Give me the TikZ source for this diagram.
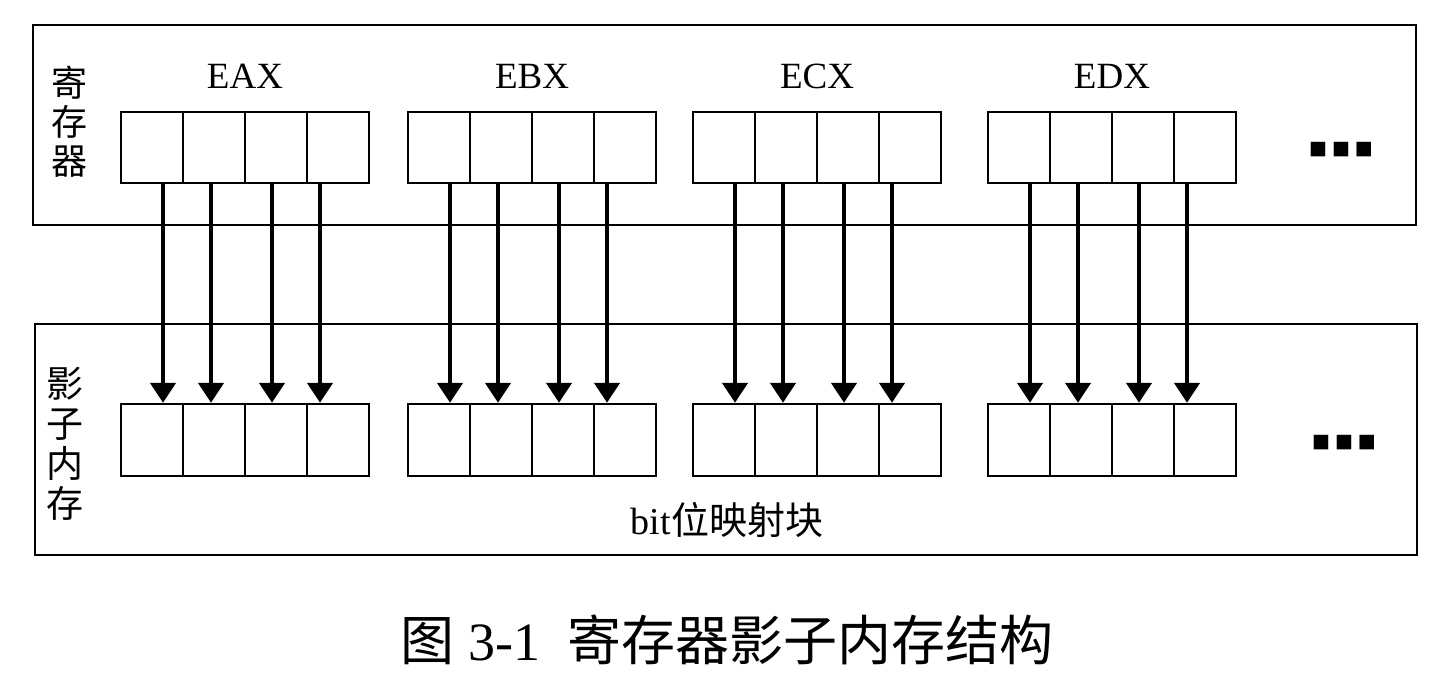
\documentclass[tikz,border=0pt]{standalone}
\usepackage{fontspec}
\setmainfont{Liberation Serif}
\newfontfamily\cjk{Noto Sans CJK SC}
\newfontfamily\symfont{DejaVu Sans}
\usetikzlibrary{arrows.meta}
\begin{document}
\begin{tikzpicture}[x=1pt,y=-1pt,>={Triangle[width=25pt,length=20pt]},
  cell/.style={draw,line width=2.4pt,minimum width=62pt,minimum height=71pt,inner sep=0pt},
  frame/.style={draw,line width=2.6pt},
  reglabel/.style={font=\fontsize{37}{40}\selectfont}]
\useasboundingbox (0,0) rectangle (1440,679);
\draw[frame] (33,25) rectangle (1416,225);
\draw[frame] (35,324) rectangle (1417,555);
\node[font=\cjk\fontsize{36}{39}\selectfont,align=center] (lblreg) at (69,122) {寄\\存\\器};
\node[font=\cjk\fontsize{37}{40}\selectfont,align=center] (lblshadow) at (65,444) {影\\子\\内\\存};
\foreach \n/\x [count=\g] in {EAX/121,EBX/408,ECX/693,EDX/988} {
  \node[reglabel] (name\g) at (\x+124,76) {\n};
  \foreach \c in {1,...,4} {
    \node[cell] (r\g\c) at (\x+62*\c-31,147.5) {};
    \node[cell,minimum height=72pt] (s\g\c) at (\x+62*\c-31,440) {};
  }
}
\foreach \g in {1,...,4}\foreach \c/\d in {1/11,2/-3,3/-4,4/-18}
  \draw[->,line width=4.4pt] ([xshift=\d pt]r\g\c.south) -- ([xshift=\d pt]s\g\c.north);
\node[font=\symfont\fontsize{19}{19}\selectfont] (moreregs) at (1341,150) {■\kern5pt■\kern5pt■};
\node[font=\symfont\fontsize{19}{19}\selectfont] (moreshadow) at (1344,443) {■\kern5pt■\kern5pt■};
\node[font=\fontsize{38}{40}\selectfont] (bitmap) at (727,520) {bit{\cjk 位映射块}};
\node[font=\fontsize{54}{60}\selectfont] (caption) at (727,640) {{\cjk 图} 3-1\ \ {\cjk 寄存器影子内存结构}};
\end{tikzpicture}
\end{document}
